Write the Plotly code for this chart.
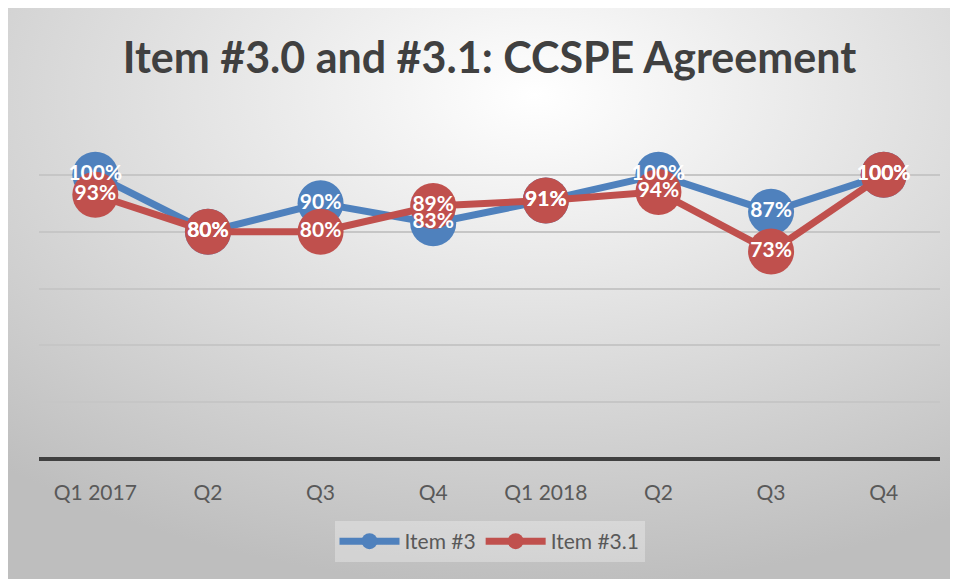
import base64
import plotly.graph_objects as go

categories = ["Q1 2017", "Q2", "Q3", "Q4", "Q1 2018", "Q2", "Q3", "Q4"]
item3 = [100, 80, 90, 83, 91, 100, 87, 100]
item31 = [93, 80, 80, 89, 91, 94, 73, 100]
title_text = "Item #3.0 and #3.1: CCSPE Agreement"

BLUE = "#4F81BD"
RED = "#C0504D"
FONT = "Lato"

x = list(range(len(categories)))

W, H = 958, 579
svg = f"""<svg xmlns='http://www.w3.org/2000/svg' width='{W}' height='{H}' viewBox='0 0 {W} {H}' preserveAspectRatio='none'>
<defs><radialGradient id='g' cx='55%' cy='15%' r='85%' fx='55%' fy='15%'>
<stop offset='0%' stop-color='#ffffff'/><stop offset='100%' stop-color='#bebebe'/></radialGradient></defs>
<rect x='0' y='0' width='{W}' height='{H}' fill='url(#g)'/>
</svg>"""
src = "data:image/svg+xml;base64," + base64.b64encode(svg.encode()).decode()

fig = go.Figure()
fig.add_trace(go.Scatter(x=x, y=item3, mode="lines+markers", name="Item #3",
                         line=dict(color=BLUE, width=7),
                         marker=dict(color=BLUE, size=46)))
fig.add_trace(go.Scatter(x=x, y=item31, mode="lines+markers", name="Item #3.1",
                         line=dict(color=RED, width=7),
                         marker=dict(color=RED, size=46)))
for vals in (item3, item31):
    fig.add_trace(go.Scatter(x=x, y=vals, mode="text", showlegend=False,
                             text=[f"{v}%" for v in vals], textposition="middle center",
                             textfont=dict(family=FONT, size=21, color="white", weight="bold"),
                             hoverinfo="skip"))

L, R, T, B = 31, 26, 110, 128
pw, ph = W - L - R, H - T - B
fig.add_layout_image(dict(source=src, xref="paper", yref="paper",
                          x=-L / pw, y=(H - B) / ph,
                          sizex=W / pw, sizey=H / ph,
                          xanchor="left", yanchor="top", sizing="stretch", layer="below"))

fig.update_layout(
    width=W, height=H,
    margin=dict(l=L, r=R, t=T, b=B),
    paper_bgcolor="#c8c8c8", plot_bgcolor="rgba(0,0,0,0)",
    title=dict(text=title_text, x=0.5, xref="paper", xanchor="center",
               y=1 - 50 / H, yanchor="middle",
               font=dict(family=FONT, size=43, color="#404040", weight="bold")),
    xaxis=dict(tickvals=x, ticktext=categories, range=[-0.5, len(categories) - 0.5],
               showgrid=False, zeroline=False, showline=False,
               ticks="outside", ticklen=15, tickcolor="rgba(0,0,0,0)",
               tickfont=dict(family=FONT, size=21, color="#595959")),
    yaxis=dict(range=[0, 120], dtick=20, showticklabels=False, gridcolor="#c6c6c6",
               gridwidth=1.5, zeroline=True, zerolinecolor="#404040", zerolinewidth=4,
               showline=False),
    legend=dict(orientation="h", x=0.5, xanchor="center", y=(H - B - 513) / ph, yanchor="top",
                bgcolor="rgba(255,255,255,0.3)", font=dict(family=FONT, size=21, color="#595959"),
                itemwidth=60, borderwidth=0),
    showlegend=True,
)
fig.write_html("out.html")
